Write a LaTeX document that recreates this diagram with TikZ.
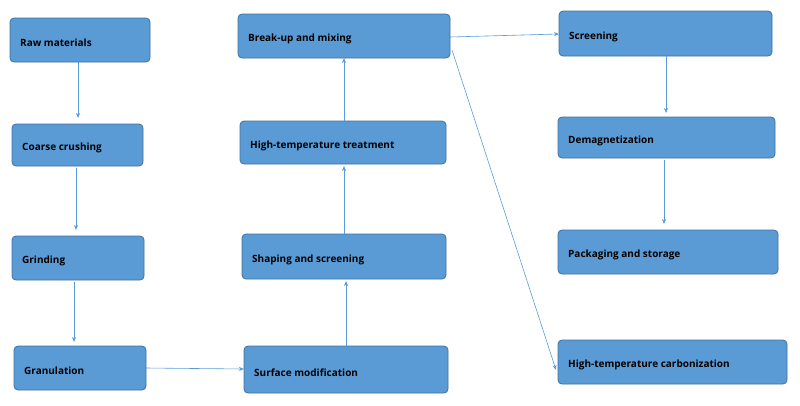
\documentclass[tikz,border=0pt]{standalone}
\usepackage{fontspec}
\setmainfont{Open Sans}
\usetikzlibrary{arrows.meta}
\definecolor{bfill}{HTML}{5B9BD5}
\definecolor{bdraw}{HTML}{41719C}
\definecolor{arr}{HTML}{5B9BD5}
\begin{document}
\begin{tikzpicture}[x=1pt,y=-1pt,
  box/.style={fill=bfill,draw=bdraw,line width=0.8pt,rounded corners=4pt},
  lab/.style={anchor=west,font=\fontsize{10}{12}\selectfont\bfseries,inner sep=0pt},
  ar/.style={draw=arr,line width=0.6pt,-{Stealth[length=5pt,width=4pt]}}]
\useasboundingbox (0,0) rectangle (800,405);
\newcommand{\bx}[6]{%
  \draw[box] (#2,#3) rectangle (#4,#5);
  \coordinate (#1-nw) at (#2,#3);
  \coordinate (#1-se) at (#4,#5);
  \node[lab] (#1) at (#2+10,{(#3+#5)/2+3}) {#6};}
\bx{raw}{10}{18}{150}{62}{Raw materials}
\bx{cc}{12}{124}{143}{166}{Coarse crushing}
\bx{gr}{12}{236}{144}{280}{Grinding}
\bx{gran}{14}{346}{146}{390}{Granulation}
\bx{sm}{244}{346}{448}{393}{Surface modification}
\bx{ss}{242}{234}{446}{279}{Shaping and screening}
\bx{ht}{240}{121}{446}{164}{High-temperature treatment}
\bx{bm}{238}{14}{450}{58}{Break-up and mixing}
\bx{sc}{559}{11}{772}{56}{Screening}
\bx{dm}{558}{117}{775}{158}{Demagnetization}
\bx{pk}{558}{230}{778}{274}{Packaging and storage}
\bx{hc}{558}{340}{787}{384}{High-temperature carbonization}
\coordinate (a1) at (78,62); \coordinate (b1) at (78,118);
\coordinate (a2) at (76,168); \coordinate (b2) at (76,230);
\coordinate (a3) at (74,282); \coordinate (b3) at (74,342);
\coordinate (a4) at (146,368); \coordinate (b4) at (244,369);
\coordinate (a5) at (346,346); \coordinate (b5) at (346,281);
\coordinate (a6) at (344,234); \coordinate (b6) at (344,166);
\coordinate (a7) at (344,121); \coordinate (b7) at (344,58);
\coordinate (a8) at (450,37); \coordinate (b8) at (559,34);
\coordinate (a9) at (452,50); \coordinate (b9) at (556,370);
\coordinate (a10) at (666,56); \coordinate (b10) at (666,113);
\coordinate (a11) at (664,160); \coordinate (b11) at (664,224);
\foreach \i in {1,...,11} \draw[ar] (a\i) -- (b\i);
\end{tikzpicture}
\end{document}
